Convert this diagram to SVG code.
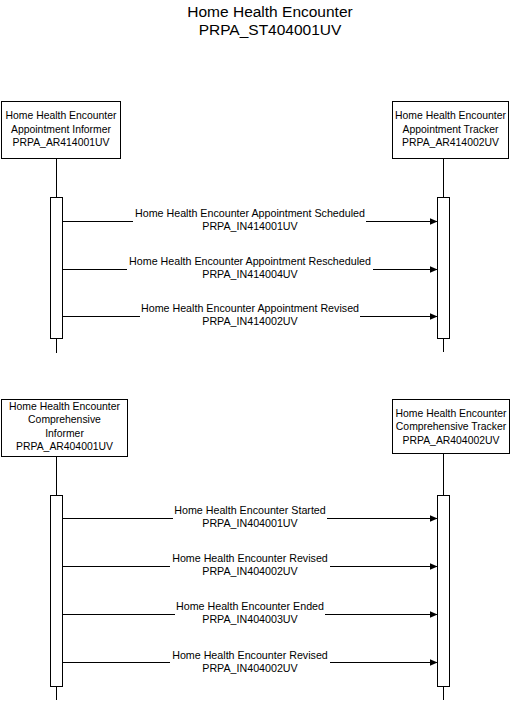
<svg xmlns="http://www.w3.org/2000/svg" width="512" height="701" viewBox="0 0 512 701">
<style>
  .bg { fill: #ffffff; }
  .box { fill: #ffffff; stroke: #000000; stroke-width: 1; }
  .life { stroke: #000000; stroke-width: 1; fill: none; }
  .act { fill: #ffffff; stroke: #000000; stroke-width: 1; }
  .msg { stroke: #000000; stroke-width: 1; fill: none; marker-end: url(#arrow); }
  .lblbg { fill: #ffffff; stroke: none; }
  text { font-family: "Liberation Sans", Arial, sans-serif; fill: #000000; text-anchor: middle; }
  .t { font-size: 10.7px; }
  .b { font-size: 10.4px; }
  .title { font-size: 15.5px; }
</style>
<defs>
  <marker id="arrow" markerUnits="userSpaceOnUse" markerWidth="9" markerHeight="8" refX="8" refY="3.5" orient="auto">
    <path d="M0,0 L8,3.5 L0,7 z" fill="#000000"/>
  </marker>
</defs>
<rect class="bg" x="0" y="0" width="512" height="701"/>

<g id="title">
  <text class="title" x="270" y="17">Home Health Encounter</text>
  <text class="title" x="270" y="35">PRPA_ST404001UV</text>
</g>

<g id="lifelines">
  <line class="life" x1="56.5" y1="158.5" x2="56.5" y2="197.5"/>
  <line class="life" x1="56.5" y1="338.5" x2="56.5" y2="353"/>
  <line class="life" x1="443.5" y1="158.5" x2="443.5" y2="197.5"/>
  <line class="life" x1="443.5" y1="338.5" x2="443.5" y2="352"/>
  <line class="life" x1="56.5" y1="456.5" x2="56.5" y2="495.5"/>
  <line class="life" x1="56.5" y1="686.5" x2="56.5" y2="700"/>
  <line class="life" x1="443.5" y1="453.5" x2="443.5" y2="495.5"/>
  <line class="life" x1="443.5" y1="686.5" x2="443.5" y2="700"/>
</g>

<g id="appt-informer">
  <rect class="box" x="1.5" y="101.5" width="119" height="57"/>
  <text class="b" x="61" y="119">Home Health Encounter</text>
  <text class="b" x="61" y="132.5">Appointment Informer</text>
  <text class="b" x="61" y="146">PRPA_AR414001UV</text>
  <rect class="act" x="50.5" y="197.5" width="12" height="141"/>
</g>

<g id="appt-tracker">
  <rect class="box" x="392.5" y="101.5" width="116" height="57"/>
  <text class="b" x="450.5" y="119">Home Health Encounter</text>
  <text class="b" x="450.5" y="132.5">Appointment Tracker</text>
  <text class="b" x="450.5" y="146">PRPA_AR414002UV</text>
  <rect class="act" x="437.5" y="197.5" width="12" height="141"/>
</g>

<g id="comp-informer">
  <rect class="box" x="1.5" y="399.5" width="126" height="57"/>
  <text class="b" x="64.5" y="409.5">Home Health Encounter</text>
  <text class="b" x="64.5" y="423">Comprehensive</text>
  <text class="b" x="64.5" y="436.5">Informer</text>
  <text class="b" x="64.5" y="450">PRPA_AR404001UV</text>
  <rect class="act" x="50.5" y="495.5" width="12" height="191"/>
</g>

<g id="comp-tracker">
  <rect class="box" x="392.5" y="399.5" width="117" height="54"/>
  <text class="b" x="451" y="417">Home Health Encounter</text>
  <text class="b" x="451" y="430.3">Comprehensive Tracker</text>
  <text class="b" x="451" y="443.6">PRPA_AR404002UV</text>
  <rect class="act" x="437.5" y="495.5" width="12" height="191"/>
</g>

<g id="connectors">
  <g>
    <line class="msg" x1="62.5" y1="221.5" x2="437.5" y2="221.5"/>
    <rect class="lblbg" x="133" y="209" width="233" height="24"/>
    <text class="t" x="250" y="217">Home Health Encounter Appointment Scheduled</text>
    <text class="t" x="250" y="230">PRPA_IN414001UV</text>
  </g>
  <g>
    <line class="msg" x1="62.5" y1="269.5" x2="437.5" y2="269.5"/>
    <rect class="lblbg" x="127" y="257" width="246" height="24"/>
    <text class="t" x="250" y="265">Home Health Encounter Appointment Rescheduled</text>
    <text class="t" x="250" y="278">PRPA_IN414004UV</text>
  </g>
  <g>
    <line class="msg" x1="62.5" y1="316.5" x2="437.5" y2="316.5"/>
    <rect class="lblbg" x="140" y="304" width="220" height="24"/>
    <text class="t" x="250" y="312">Home Health Encounter Appointment Revised</text>
    <text class="t" x="250" y="325">PRPA_IN414002UV</text>
  </g>
  <g>
    <line class="msg" x1="62.5" y1="518.5" x2="437.5" y2="518.5"/>
    <rect class="lblbg" x="173" y="506" width="154" height="24"/>
    <text class="t" x="250" y="514">Home Health Encounter Started</text>
    <text class="t" x="250" y="527">PRPA_IN404001UV</text>
  </g>
  <g>
    <line class="msg" x1="62.5" y1="566.5" x2="437.5" y2="566.5"/>
    <rect class="lblbg" x="170" y="554" width="160" height="24"/>
    <text class="t" x="250" y="562">Home Health Encounter Revised</text>
    <text class="t" x="250" y="575">PRPA_IN404002UV</text>
  </g>
  <g>
    <line class="msg" x1="62.5" y1="614.5" x2="437.5" y2="614.5"/>
    <rect class="lblbg" x="175" y="602" width="150" height="24"/>
    <text class="t" x="250" y="610">Home Health Encounter Ended</text>
    <text class="t" x="250" y="623">PRPA_IN404003UV</text>
  </g>
  <g>
    <line class="msg" x1="62.5" y1="662.5" x2="437.5" y2="662.5"/>
    <rect class="lblbg" x="170" y="650" width="160" height="24"/>
    <text class="t" x="250" y="658.5">Home Health Encounter Revised</text>
    <text class="t" x="250" y="671.5">PRPA_IN404002UV</text>
  </g>
</g>
</svg>
